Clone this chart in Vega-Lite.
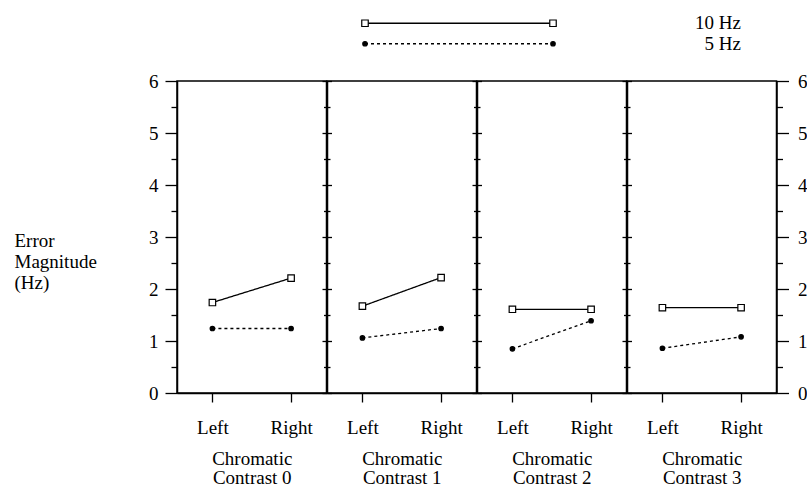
{
  "$schema": "https://vega.github.io/schema/vega-lite/v6.json",
  "autosize": {"type": "pad"},
  "padding": {"left": 13, "top": 13, "right": 0, "bottom": 0},
  "bounds": "flush",
  "spacing": 27,
  "background": "white",
  "datasets": {
    "main": [
      {"contrast": 0, "side": "Left", "freq": "10 Hz", "err": 1.74},
      {"contrast": 0, "side": "Right", "freq": "10 Hz", "err": 2.21},
      {"contrast": 0, "side": "Left", "freq": "5 Hz", "err": 1.24},
      {"contrast": 0, "side": "Right", "freq": "5 Hz", "err": 1.24},
      {"contrast": 1, "side": "Left", "freq": "10 Hz", "err": 1.67},
      {"contrast": 1, "side": "Right", "freq": "10 Hz", "err": 2.22},
      {"contrast": 1, "side": "Left", "freq": "5 Hz", "err": 1.06},
      {"contrast": 1, "side": "Right", "freq": "5 Hz", "err": 1.24},
      {"contrast": 2, "side": "Left", "freq": "10 Hz", "err": 1.61},
      {"contrast": 2, "side": "Right", "freq": "10 Hz", "err": 1.61},
      {"contrast": 2, "side": "Left", "freq": "5 Hz", "err": 0.85},
      {"contrast": 2, "side": "Right", "freq": "5 Hz", "err": 1.39},
      {"contrast": 3, "side": "Left", "freq": "10 Hz", "err": 1.64},
      {"contrast": 3, "side": "Right", "freq": "10 Hz", "err": 1.64},
      {"contrast": 3, "side": "Left", "freq": "5 Hz", "err": 0.86},
      {"contrast": 3, "side": "Right", "freq": "5 Hz", "err": 1.08}
    ],
    "key": [
      {"freq": "10 Hz", "end": "a"},
      {"freq": "10 Hz", "end": "b"},
      {"freq": "10 Hz", "end": "c"},
      {"freq": "5 Hz", "end": "a"},
      {"freq": "5 Hz", "end": "b"},
      {"freq": "5 Hz", "end": "c"}
    ]
  },
  "vconcat": [
    {
      "data": {"name": "key"},
      "width": 752, "height": 41,
      "view": {"stroke": null},
      "encoding": {
        "x": {"field": "end", "type": "nominal", "scale": {"type": "point", "domain": ["a", "b", "c"], "padding": 4.081}, "axis": null},
        "y": {"field": "freq", "type": "nominal", "scale": {"type": "point", "domain": ["10 Hz", "5 Hz"], "padding": 0.5}, "axis": null}
      },
      "layer": [
        {
          "transform": [{"filter": "datum.end != 'c'"}],
          "mark": {"type": "line", "stroke": "black", "strokeWidth": 1.3},
          "encoding": {
            "strokeDash": {"field": "freq", "type": "nominal", "scale": {"domain": ["10 Hz", "5 Hz"], "range": [[1, 0], [3, 3]]}, "legend": null}
          }
        },
        {
          "transform": [{"filter": "datum.end != 'c'"}],
          "mark": {"type": "point", "filled": true, "stroke": "black", "strokeWidth": 1.2, "opacity": 1},
          "encoding": {
            "shape": {"field": "freq", "type": "nominal", "scale": {"domain": ["10 Hz", "5 Hz"], "range": ["square", "circle"]}, "legend": null},
            "fill": {"field": "freq", "type": "nominal", "scale": {"domain": ["10 Hz", "5 Hz"], "range": ["white", "black"]}, "legend": null},
            "size": {"field": "freq", "type": "nominal", "scale": {"type": "ordinal", "domain": ["10 Hz", "5 Hz"], "range": [42, 20]}, "legend": null}
          }
        },
        {
          "transform": [{"filter": "datum.end == 'c'"}],
          "mark": {"type": "text", "align": "right", "baseline": "middle", "fontSize": 19, "color": "black"},
          "encoding": {"text": {"field": "freq", "type": "nominal"}}
        }
      ]
    },
    {
      "data": {"name": "main"},
      "spacing": 0,
      "bounds": "flush",
      "hconcat": [
        {
          "width": 149.5, "height": 312,
          "transform": [{"filter": "datum.contrast == 0"}],
          "encoding": {
            "x": {"field": "side", "type": "nominal", "scale": {"type": "point", "domain": ["Left", "Right"], "padding": 0.45}, "axis": {"title": ["Chromatic", "Contrast 0"]}}
          },
          "layer": [
            {
              "mark": {"type": "line", "stroke": "black", "strokeWidth": 1.3},
              "encoding": {
                "y": {"field": "err", "type": "quantitative", "scale": {"domain": [0, 6], "nice": false},
                  "axis": {"orient": "left", "values": [0, 0.5, 1, 1.5, 2, 2.5, 3, 3.5, 4, 4.5, 5, 5.5, 6], "labelExpr": "datum.value % 1 ? '' : toString(datum.value)", "tickSize": {"condition": {"test": "datum.value % 1", "value": 6}, "value": 12}, "labelPadding": 7, "title": ["Error", "Magnitude", "(Hz)"], "titleAngle": 0, "titleAlign": "left", "titleBaseline": "alphabetic", "titleX": -163, "titleY": 165.7, "titleLineHeight": 21}},
                "strokeDash": {"field": "freq", "type": "nominal", "scale": {"domain": ["10 Hz", "5 Hz"], "range": [[1, 0], [3, 3]]}, "legend": null}
              }
            },
            {
              "mark": {"type": "point", "filled": true, "stroke": "black", "strokeWidth": 1.2, "opacity": 1},
              "encoding": {
                "y": {"field": "err", "type": "quantitative", "scale": {"domain": [0, 6], "nice": false},
                  "axis": {"orient": "right", "values": [0, 0.5, 1, 1.5, 2, 2.5, 3, 3.5, 4, 4.5, 5, 5.5, 6], "labels": false, "tickSize": {"condition": {"test": "datum.value % 1", "value": 3.5}, "value": 5}, "title": null}},
                "shape": {"field": "freq", "type": "nominal", "scale": {"domain": ["10 Hz", "5 Hz"], "range": ["square", "circle"]}, "legend": null},
                "fill": {"field": "freq", "type": "nominal", "scale": {"domain": ["10 Hz", "5 Hz"], "range": ["white", "black"]}, "legend": null},
                "size": {"field": "freq", "type": "nominal", "scale": {"type": "ordinal", "domain": ["10 Hz", "5 Hz"], "range": [52, 36]}, "legend": null}
              }
            }
          ],
          "resolve": {"axis": {"y": "independent"}}
        },
        {
          "width": 149.5, "height": 312,
          "transform": [{"filter": "datum.contrast == 1"}],
          "encoding": {
            "x": {"field": "side", "type": "nominal", "scale": {"type": "point", "domain": ["Left", "Right"], "padding": 0.45}, "axis": {"title": ["Chromatic", "Contrast 1"]}}
          },
          "layer": [
            {
              "mark": {"type": "line", "stroke": "black", "strokeWidth": 1.3},
              "encoding": {
                "y": {"field": "err", "type": "quantitative", "scale": {"domain": [0, 6], "nice": false},
                  "axis": {"orient": "left", "values": [0, 0.5, 1, 1.5, 2, 2.5, 3, 3.5, 4, 4.5, 5, 5.5, 6], "labels": false, "tickSize": {"condition": {"test": "datum.value % 1", "value": 3.5}, "value": 5}, "title": null}},
                "strokeDash": {"field": "freq", "type": "nominal", "scale": {"domain": ["10 Hz", "5 Hz"], "range": [[1, 0], [3, 3]]}, "legend": null}
              }
            },
            {
              "mark": {"type": "point", "filled": true, "stroke": "black", "strokeWidth": 1.2, "opacity": 1},
              "encoding": {
                "y": {"field": "err", "type": "quantitative", "scale": {"domain": [0, 6], "nice": false},
                  "axis": {"orient": "right", "values": [0, 0.5, 1, 1.5, 2, 2.5, 3, 3.5, 4, 4.5, 5, 5.5, 6], "labels": false, "tickSize": {"condition": {"test": "datum.value % 1", "value": 3.5}, "value": 5}, "title": null}},
                "shape": {"field": "freq", "type": "nominal", "scale": {"domain": ["10 Hz", "5 Hz"], "range": ["square", "circle"]}, "legend": null},
                "fill": {"field": "freq", "type": "nominal", "scale": {"domain": ["10 Hz", "5 Hz"], "range": ["white", "black"]}, "legend": null},
                "size": {"field": "freq", "type": "nominal", "scale": {"type": "ordinal", "domain": ["10 Hz", "5 Hz"], "range": [52, 36]}, "legend": null}
              }
            }
          ],
          "resolve": {"axis": {"y": "independent"}}
        },
        {
          "width": 149.5, "height": 312,
          "transform": [{"filter": "datum.contrast == 2"}],
          "encoding": {
            "x": {"field": "side", "type": "nominal", "scale": {"type": "point", "domain": ["Left", "Right"], "padding": 0.45}, "axis": {"title": ["Chromatic", "Contrast 2"]}}
          },
          "layer": [
            {
              "mark": {"type": "line", "stroke": "black", "strokeWidth": 1.3},
              "encoding": {
                "y": {"field": "err", "type": "quantitative", "scale": {"domain": [0, 6], "nice": false},
                  "axis": {"orient": "left", "values": [0, 0.5, 1, 1.5, 2, 2.5, 3, 3.5, 4, 4.5, 5, 5.5, 6], "labels": false, "tickSize": {"condition": {"test": "datum.value % 1", "value": 3.5}, "value": 5}, "title": null}},
                "strokeDash": {"field": "freq", "type": "nominal", "scale": {"domain": ["10 Hz", "5 Hz"], "range": [[1, 0], [3, 3]]}, "legend": null}
              }
            },
            {
              "mark": {"type": "point", "filled": true, "stroke": "black", "strokeWidth": 1.2, "opacity": 1},
              "encoding": {
                "y": {"field": "err", "type": "quantitative", "scale": {"domain": [0, 6], "nice": false},
                  "axis": {"orient": "right", "values": [0, 0.5, 1, 1.5, 2, 2.5, 3, 3.5, 4, 4.5, 5, 5.5, 6], "labels": false, "tickSize": {"condition": {"test": "datum.value % 1", "value": 3.5}, "value": 5}, "title": null}},
                "shape": {"field": "freq", "type": "nominal", "scale": {"domain": ["10 Hz", "5 Hz"], "range": ["square", "circle"]}, "legend": null},
                "fill": {"field": "freq", "type": "nominal", "scale": {"domain": ["10 Hz", "5 Hz"], "range": ["white", "black"]}, "legend": null},
                "size": {"field": "freq", "type": "nominal", "scale": {"type": "ordinal", "domain": ["10 Hz", "5 Hz"], "range": [52, 36]}, "legend": null}
              }
            }
          ],
          "resolve": {"axis": {"y": "independent"}}
        },
        {
          "width": 149.5, "height": 312,
          "transform": [{"filter": "datum.contrast == 3"}],
          "encoding": {
            "x": {"field": "side", "type": "nominal", "scale": {"type": "point", "domain": ["Left", "Right"], "padding": 0.45}, "axis": {"title": ["Chromatic", "Contrast 3"]}}
          },
          "layer": [
            {
              "mark": {"type": "line", "stroke": "black", "strokeWidth": 1.3},
              "encoding": {
                "y": {"field": "err", "type": "quantitative", "scale": {"domain": [0, 6], "nice": false},
                  "axis": {"orient": "left", "values": [0, 0.5, 1, 1.5, 2, 2.5, 3, 3.5, 4, 4.5, 5, 5.5, 6], "labels": false, "tickSize": {"condition": {"test": "datum.value % 1", "value": 3.5}, "value": 5}, "title": null}},
                "strokeDash": {"field": "freq", "type": "nominal", "scale": {"domain": ["10 Hz", "5 Hz"], "range": [[1, 0], [3, 3]]}, "legend": null}
              }
            },
            {
              "mark": {"type": "point", "filled": true, "stroke": "black", "strokeWidth": 1.2, "opacity": 1},
              "encoding": {
                "y": {"field": "err", "type": "quantitative", "scale": {"domain": [0, 6], "nice": false},
                  "axis": {"orient": "right", "values": [0, 0.5, 1, 1.5, 2, 2.5, 3, 3.5, 4, 4.5, 5, 5.5, 6], "labelExpr": "datum.value % 1 ? '' : toString(datum.value)", "tickSize": {"condition": {"test": "datum.value % 1", "value": 6}, "value": 12}, "labelPadding": 9, "title": null}},
                "shape": {"field": "freq", "type": "nominal", "scale": {"domain": ["10 Hz", "5 Hz"], "range": ["square", "circle"]}, "legend": null},
                "fill": {"field": "freq", "type": "nominal", "scale": {"domain": ["10 Hz", "5 Hz"], "range": ["white", "black"]}, "legend": null},
                "size": {"field": "freq", "type": "nominal", "scale": {"type": "ordinal", "domain": ["10 Hz", "5 Hz"], "range": [52, 36]}, "legend": null}
              }
            }
          ],
          "resolve": {"axis": {"y": "independent"}}
        }
      ]
    }
  ],
  "config": {
    "font": "Liberation Serif",
    "view": {"stroke": "black", "strokeWidth": 1.5},
    "axis": {"grid": false, "domainColor": "black", "domainWidth": 1.5, "tickColor": "black", "tickWidth": 1.3, "labelColor": "black", "labelFontSize": 19, "titleColor": "black", "titleFontSize": 19, "titleFontWeight": "normal"},
    "axisX": {"labelAngle": 0, "tickSize": 9, "labelPadding": 31, "labelBaseline": "alphabetic", "titleY": 71, "titleBaseline": "alphabetic", "titleLineHeight": 19.5}
  }
}
